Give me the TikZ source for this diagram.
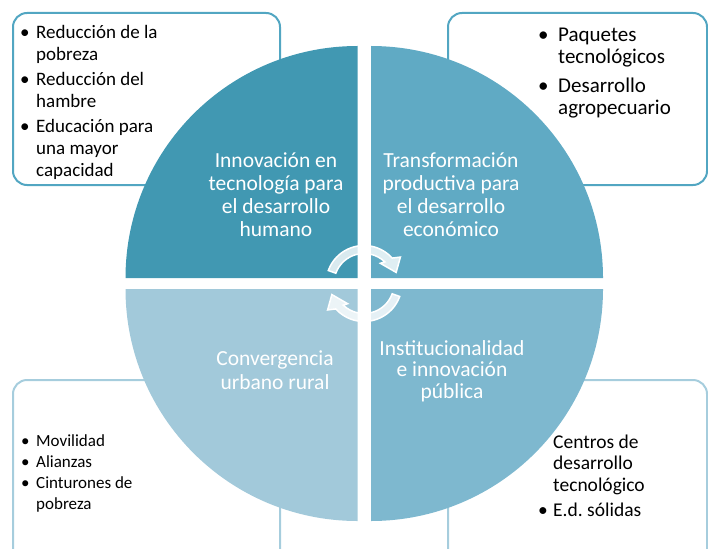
\documentclass[tikz,border=0pt]{standalone}
\usepackage{fontspec}
\setmainfont{Carlito}
\definecolor{q1}{HTML}{4198B2}
\definecolor{q2}{HTML}{60AAC4}
\definecolor{q3}{HTML}{7EB8CF}
\definecolor{q4}{HTML}{A2C9DA}
\definecolor{rimA}{HTML}{52A6C2}
\definecolor{rimB}{HTML}{A6CDDD}
\tikzset{
  listbox/.style={line width=2pt, rounded corners=14pt},
  listtxt/.style={anchor=base west, inner sep=0pt, text=black},
  quadtxt/.style={anchor=base, inner sep=0pt, text=white},
  turn/.style={fill=white, fill opacity=.8, draw=white, line width=1.5pt}
}

\begin{document}
\begin{tikzpicture}[x=1pt,y=1pt]
	\useasboundingbox (0,0) rectangle (708,-548);

	% cajas de texto
	\draw[rimA, listbox] (13,-13) rectangle (280,-185);
	\draw[rimA, listbox] (448,-13) rectangle (707,-185);
	\draw[rimB, listbox] (13,-380) rectangle (280,-570);
	\draw[rimB, listbox] (448,-380) rectangle (707,-570);

	% cuadrantes
	\fill[q1] (357.5,-278) -- ++(-232,0) arc (180:90:232) -- cycle;
	\fill[q2] (371,-278) -- ++(0,232) arc (90:0:232) -- cycle;
	\fill[q3] (371,-289) -- ++(232,0) arc (0:-90:232) -- cycle;
	\fill[q4] (357.5,-289) -- ++(0,-232) arc (270:180:232) -- cycle;

	% flechas del centro
	\foreach \r in {0,180}{
		\begin{scope}[shift={(364,-283.5)}, rotate=\r]
			\draw[turn] (160:38) arc (160:42:38) -- (36:45) -- (19:34)
				-- (51:26) -- (46:30) arc (46:160:30) -- cycle;
		\end{scope}
	}

	\node[quadtxt] (innovacion) at (276,-167) {\fontsize{21.5}{23}\selectfont
		\begin{tabular}[t]{@{}c@{}}Innovación en\\ tecnología para\\ el desarrollo\\ humano\end{tabular}};
	\node[quadtxt] (transformacion) at (451,-167) {\fontsize{21.5}{23}\selectfont
		\begin{tabular}[t]{@{}c@{}}Transformación\\ productiva para\\ el desarrollo\\ económico\end{tabular}};
	\node[quadtxt] (convergencia) at (275,-365) {\fontsize{21.5}{24}\selectfont
		\begin{tabular}[t]{@{}c@{}}Convergencia\\ urbano rural\end{tabular}};
	\node[quadtxt] (institucional) at (452,-355) {\fontsize{21.5}{21.5}\selectfont
		\begin{tabular}[t]{@{}c@{}}Institucionalidad\\ e innovación\\ pública\end{tabular}};

	% listas
	\node[listtxt] (pobreza) at (20,-39) {\fontsize{19}{22}\selectfont
		\begin{tabular}[t]{@{}p{16pt}@{}l@{}}
			\textbullet & Reducción de la\\ & pobreza\\[3pt]
			\textbullet & Reducción del\\ & hambre\\[3pt]
			\textbullet & Educación para\\ & una mayor\\ & capacidad
		\end{tabular}};
	\node[listtxt] (paquetes) at (538,-42) {\fontsize{21}{22}\selectfont
		\begin{tabular}[t]{@{}p{20pt}@{}l@{}}
			\textbullet & Paquetes\\ & tecnológicos\\[7pt]
			\textbullet & Desarrollo\\ & agropecuario
		\end{tabular}};
	\node[listtxt] (movilidad) at (21,-446) {\fontsize{17}{21}\selectfont
		\begin{tabular}[t]{@{}p{15pt}@{}l@{}}
			\textbullet & Movilidad\\
			\textbullet & Alianzas\\
			\textbullet & Cinturones de\\ & pobreza
		\end{tabular}};
	\node[listtxt] (centros) at (538,-448) {\fontsize{19.5}{21.5}\selectfont
		\begin{tabular}[t]{@{}p{15pt}@{}l@{}}
			& Centros de\\ & desarrollo\\ & tecnológico\\[4pt]
			\textbullet & E.d.\ sólidas
		\end{tabular}};
\end{tikzpicture}
\end{document}
